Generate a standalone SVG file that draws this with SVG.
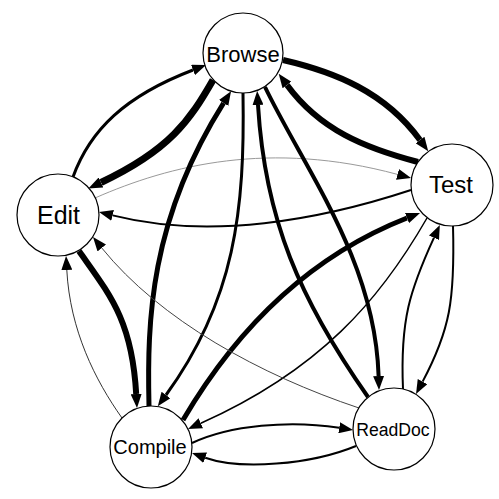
<svg xmlns="http://www.w3.org/2000/svg" width="499" height="499" viewBox="0 0 499 499">
<style>
.e{fill:none;stroke:#000;marker-end:url(#ah)}
.n circle{fill:#fff;stroke:#000;stroke-width:1.2}
.n text{font-family:"Liberation Sans",Arial,sans-serif;text-anchor:middle;fill:#000}
</style>
<defs>
<marker id="ah" markerUnits="userSpaceOnUse" markerWidth="14" markerHeight="11" refX="0" refY="5.5" orient="auto">
<path d="M0,0 L14,5.5 L0,11 z" fill="#000"/>
</marker>
</defs>
<rect width="499" height="499" fill="#fff"/>
<g id="connectors">
<path class="e" style="stroke-width:3" d="M73,177 C90,130 125,96 193,70"/>
<path class="e" style="stroke-width:7" d="M213,80 C190,120 170,150 101,182.5"/>
<path class="e" style="stroke-width:6" d="M283,60 C335,72 385,92 420,140"/>
<path class="e" style="stroke-width:6" d="M418,162 C365,148 320,130 287,85"/>
<path class="e" style="stroke-width:2" d="M411,190 C320,220 210,240 112.6,215.4"/>
<path class="e" style="stroke-width:1;stroke:#999" d="M95,198 C170,165 270,140 397.5,174.4"/>
<path class="e" style="stroke-width:3" d="M243,93 C245,210 235,300 166,395"/>
<path class="e" style="stroke-width:5" d="M149,406 C147,320 150,220 223.6,103"/>
<path class="e" style="stroke-width:4" d="M265,87 C305,170 375,260 378.6,376"/>
<path class="e" style="stroke-width:4" d="M368,397 C300,300 265,220 258,105"/>
<path class="e" style="stroke-width:6" d="M79,251 C110,295 132,320 136.2,394"/>
<path class="e" style="stroke-width:1;stroke:#333" d="M122,418 C95,380 70,330 66.8,270"/>
<path class="e" style="stroke-width:1.5" d="M427,218 C380,300 320,370 200.8,423.3"/>
<path class="e" style="stroke-width:5" d="M183,420 C230,340 300,260 407,218"/>
<path class="e" style="stroke-width:2" d="M453,226 C455,300 450,330 422.6,381.6"/>
<path class="e" style="stroke-width:2" d="M403,389 C400,320 410,290 434,237.7"/>
<path class="e" style="stroke-width:2" d="M192,443 C230,425 290,420 339.2,427.8"/>
<path class="e" style="stroke-width:2" d="M356,446 C310,465 240,470 205.2,457.7"/>
<path class="e" style="stroke-width:1;stroke:#444" d="M359,408 C260,375 160,320 101.8,248"/>
</g>
<g id="Browse" class="n"><circle cx="243" cy="53" r="40"/><text x="243" y="61.5" font-size="22">Browse</text></g>
<g id="Edit" class="n"><circle cx="58" cy="215" r="41"/><text x="58.5" y="224" font-size="25">Edit</text></g>
<g id="Test" class="n"><circle cx="452" cy="185" r="41"/><text x="451" y="193" font-size="24">Test</text></g>
<g id="Compile" class="n"><circle cx="151" cy="447" r="41"/><text x="150" y="454" font-size="20">Compile</text></g>
<g id="ReadDoc" class="n"><circle cx="394" cy="429" r="41"/><text x="393" y="435.5" font-size="17.6">ReadDoc</text></g>
</svg>
